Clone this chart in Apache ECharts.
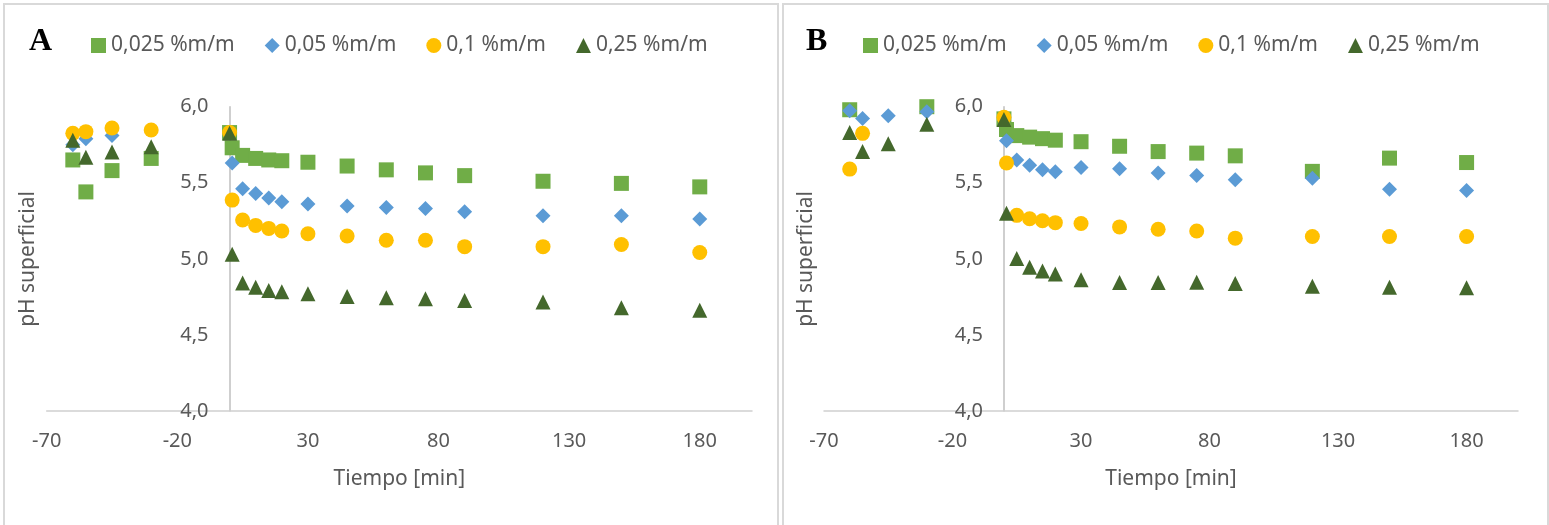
<!DOCTYPE html>
<html>
<head>
<meta charset="utf-8">
<script src="https://cdn.jsdelivr.net/npm/echarts@6/dist/echarts.min.js"></script>
<style>
  html, body { margin: 0; padding: 0; background: #fff; }
  #chart { width: 1549px; height: 525px; }
</style>
</head>
<body>
<div id="chart"></div>
<script>
// tiempos de medición (min)
const tiempo = [-60, -55, -45, -30, 0, 1, 5, 10, 15, 20, 30, 45, 60, 75, 90, 120, 150, 180];
const xTicks = [-70, -20, 30, 80, 130, 180];
const nombres = ['0,025 %m/m', '0,05 %m/m', '0,1 %m/m', '0,25 %m/m'];

// panel A
const a0025 = [5.65, 5.44, 5.58, 5.66, 5.83, 5.73, 5.68, 5.66, 5.65, 5.645, 5.635, 5.61, 5.585, 5.565, 5.547, 5.51, 5.496, 5.473];
const a005 = [5.75, 5.79, 5.81, null, null, 5.63, 5.46, 5.43, 5.40, 5.375, 5.36, 5.347, 5.337, 5.331, 5.31, 5.284, 5.284, 5.262];
const a01 = [5.825, 5.836, 5.86, 5.847, 5.83, 5.386, 5.255, 5.22, 5.2, 5.183, 5.165, 5.15, 5.122, 5.122, 5.08, 5.08, 5.094, 5.042];
const a025 = [5.78, 5.668, 5.703, 5.736, 5.825, 5.03, 4.842, 4.814, 4.792, 4.783, 4.77, 4.753, 4.744, 4.738, 4.727, 4.716, 4.679, 4.662];

// panel B
const b0025 = [5.98, null, null, 6.0, 5.92, 5.85, 5.81, 5.80, 5.79, 5.78, 5.77, 5.74, 5.705, 5.695, 5.677, 5.575, 5.662, 5.633];
const b005 = [5.973, 5.923, 5.94, 5.966, null, 5.777, 5.65, 5.616, 5.586, 5.573, 5.6, 5.592, 5.564, 5.547, 5.52, 5.53, 5.457, 5.449];
const b01 = [5.59, 5.825, null, null, 5.93, 5.63, 5.286, 5.264, 5.25, 5.238, 5.232, 5.21, 5.195, 5.183, 5.136, 5.147, 5.147, 5.147];
const b025 = [5.83, 5.705, 5.757, 5.884, 5.916, 5.30, 5.003, 4.944, 4.92, 4.90, 4.862, 4.844, 4.844, 4.847, 4.838, 4.82, 4.814, 4.81];

const colores = ['#70AD47', '#5B9BD5', '#FFC000', '#44682C'];
const simbolos = ['rect', 'diamond', 'circle', 'triangle'];
const font = 'Noto Sans';
const gris = '#595959';
const grids = [
  { left: 46.7, top: 106.7, width: 705.3, height: 304.3, containLabel: false, outerBoundsMode: 'none' },
  { left: 824, top: 106.7, width: 694, height: 304.3, containLabel: false, outerBoundsMode: 'none' }
];

function pares(ys) {
  const out = [];
  ys.forEach((y, i) => {
    if (y !== null) out.push([tiempo[i], y]);
  });
  return out;
}

function ejeX(idx) {
  return {
    gridIndex: idx,
    type: 'value',
    min: -70,
    max: 200,
    name: 'Tiempo [min]',
    nameLocation: 'middle',
    nameGap: 58,
    nameTextStyle: { color: gris, fontSize: 21, fontFamily: font },
    axisLine: { lineStyle: { color: '#d0d0d0', width: 1.5 } },
    axisTick: { show: false },
    splitLine: { show: false },
    axisLabel: {
      customValues: xTicks,
      color: gris,
      fontSize: 20,
      fontFamily: font,
      margin: 20
    }
  };
}

function ejeY(idx) {
  return {
    gridIndex: idx,
    type: 'value',
    min: 4,
    max: 6,
    interval: 0.5,
    offset: 0,
    axisLine: { onZero: false, lineStyle: { color: '#bfbfbf', width: 1.5 } },
    axisTick: { show: false },
    splitLine: { show: false },
    axisLabel: {
      color: gris,
      fontSize: 20,
      fontFamily: font,
      margin: 21,
      formatter: v => v.toFixed(1).replace('.', ',')
    }
  };
}

function leyenda(left) {
  return {
    left: left,
    top: 30,
    itemWidth: 15,
    itemHeight: 15,
    itemGap: 30,
    textStyle: { color: gris, fontSize: 21, fontFamily: font },
    data: nombres.map((n, i) => ({ name: n, icon: simbolos[i], itemStyle: { color: colores[i] } }))
  };
}

function tituloY(cx) {
  return {
    type: 'text',
    x: cx,
    y: 259,
    rotation: Math.PI / 2,
    style: {
      text: 'pH superficial',
      font: '21px "Noto Sans"',
      fill: gris,
      align: 'center',
      verticalAlign: 'middle'
    }
  };
}

const seriesA = [a0025, a005, a01, a025];
const seriesB = [b0025, b005, b01, b025];
const series = [];
[seriesA, seriesB].forEach((grupo, g) => {
  grupo.forEach((ys, i) => {
    series.push({
      name: nombres[i],
      type: 'scatter',
      xAxisIndex: g,
      yAxisIndex: g,
      symbol: simbolos[i],
      symbolSize: 15,
      clip: false,
      itemStyle: { color: colores[i], opacity: 1 },
      data: pares(ys)
    });
  });
});

const chart = echarts.init(document.getElementById('chart'));
chart.setOption({
  animation: false,
  backgroundColor: '#fff',
  grid: grids,
  xAxis: [ejeX(0), ejeX(1)],
  yAxis: [ejeY(0), ejeY(1)],
  legend: [leyenda(86), leyenda(858)],
  graphic: [
    { type: 'rect', shape: { x: 4, y: 4, width: 774, height: 560 }, style: { fill: 'none', stroke: '#d9d9d9', lineWidth: 2 }, silent: true },
    { type: 'rect', shape: { x: 783, y: 4, width: 765, height: 560 }, style: { fill: 'none', stroke: '#d9d9d9', lineWidth: 2 }, silent: true },
    { type: 'text', left: 29, top: 26, style: { text: 'A', font: 'bold 32px "Liberation Serif"', fill: '#000' } },
    { type: 'text', left: 806, top: 26, style: { text: 'B', font: 'bold 32px "Liberation Serif"', fill: '#000' } },
    tituloY(28),
    tituloY(806)
  ],
  series: series
});

// el eje Y cruza en t = 0: desplazarlo hasta esa posición
const offsets = grids.map((gr, g) => {
  const px = chart.convertToPixel({ gridIndex: g }, [0, 4])[0];
  return { offset: -(px - gr.left) };
});
chart.setOption({ yAxis: offsets });
</script>
</body>
</html>
